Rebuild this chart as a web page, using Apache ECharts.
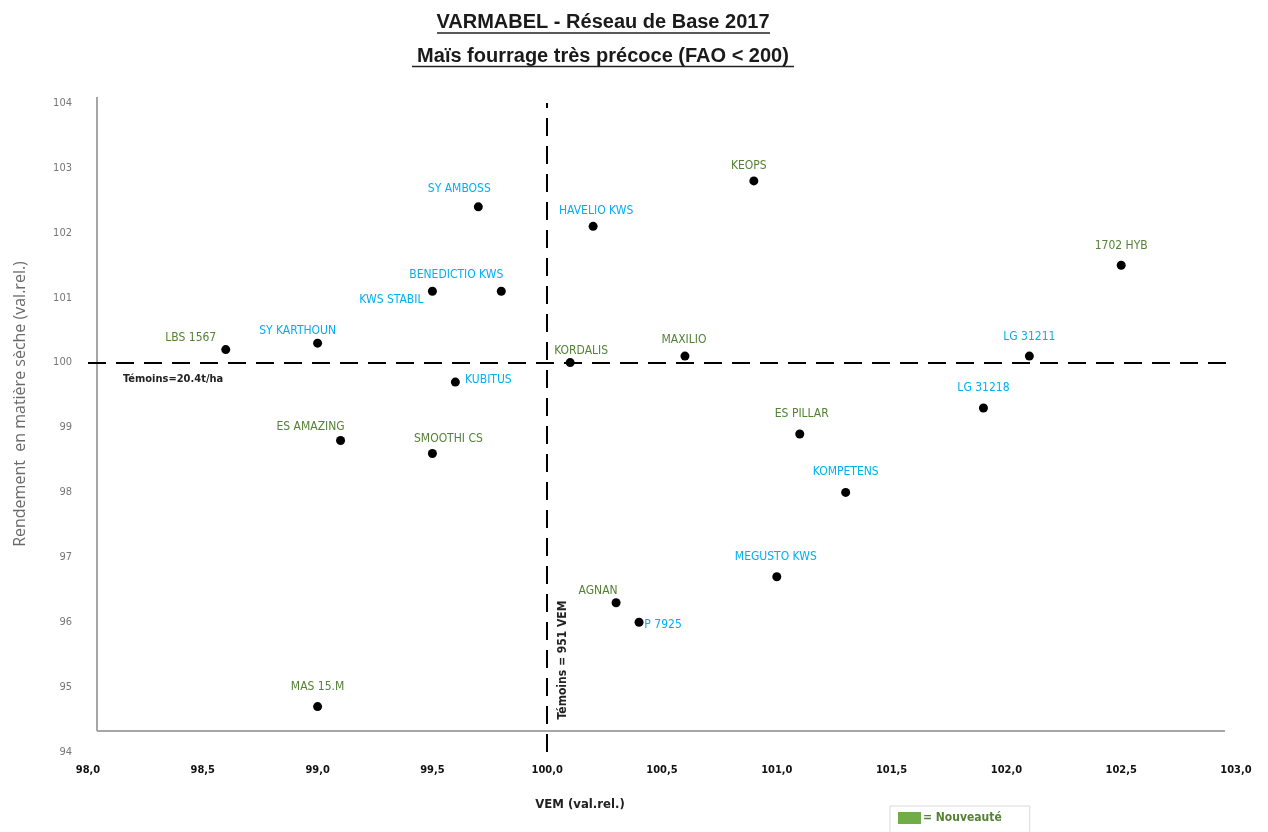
<!DOCTYPE html>
<html>
<head>
<meta charset="utf-8">
<script src="https://cdn.jsdelivr.net/npm/echarts@6/dist/echarts.min.js"></script>
<style>
html,body{margin:0;padding:0;background:#fff;}
#chart{width:1268px;height:832px;}
</style>
</head>
<body>
<div id="chart"></div>
<script>
// ---- Data ----
const varieties = ['LBS 1567','SY KARTHOUN','KWS STABIL','BENEDICTIO KWS','SY AMBOSS','KUBITUS','ES AMAZING','SMOOTHI CS','MAS 15.M','HAVELIO KWS','KEOPS','KORDALIS','MAXILIO','1702 HYB','LG 31211','LG 31218','ES PILLAR','KOMPETENS','MEGUSTO KWS','AGNAN','P 7925'];
const vem       = [98.6, 99.0, 99.5, 99.8, 99.7, 99.6, 99.1, 99.5, 99.0, 100.2, 100.9, 100.1, 100.6, 102.5, 102.1, 101.9, 101.1, 101.3, 101.0, 100.3, 100.4];
const rendement = [100.2, 100.3, 101.1, 101.1, 102.4, 99.7, 98.8, 98.6, 94.7, 102.1, 102.8, 100.0, 100.1, 101.5, 100.1, 99.3, 98.9, 98.0, 96.7, 96.3, 96.0];
const nouveaute = [true, false, false, false, false, false, true, true, true, false, true, true, true, true, false, false, true, false, false, true, false];
const xTicks = [98.0, 98.5, 99.0, 99.5, 100.0, 100.5, 101.0, 101.5, 102.0, 102.5, 103.0];
const yTicks = [94, 95, 96, 97, 98, 99, 100, 101, 102, 103, 104];
const temoinVEM = 100;
const temoinRdt = 100;
const titleLine1 = 'VARMABEL - Réseau de Base 2017';
const titleLine2 = 'Maïs fourrage très précoce (FAO < 200)';

// ---- Layout (label offsets, px from point centre) ----
const labelOffsets = {
  'LBS 1567':[-35,-12], 'SY KARTHOUN':[-20,-12], 'KWS STABIL':[-41,9], 'BENEDICTIO KWS':[-45,-16],
  'SY AMBOSS':[-19,-18], 'KUBITUS':[33,-2], 'ES AMAZING':[-30,-14], 'SMOOTHI CS':[16,-15],
  'MAS 15.M':[0,-20], 'HAVELIO KWS':[3,-15], 'KEOPS':[-5,-15], 'KORDALIS':[11,-12],
  'MAXILIO':[-1,-16], '1702 HYB':[0,-19], 'LG 31211':[0,-19], 'LG 31218':[0,-20],
  'ES PILLAR':[2,-20], 'KOMPETENS':[0,-21], 'MEGUSTO KWS':[-1,-20], 'AGNAN':[-18,-12], 'P 7925':[24,3]
};
const GREEN = '#548235', BLUE = '#00b0f0', NEW_BOX = '#70ad47';
const NARROW = '"Liberation Sans Narrow","DejaVu Sans Condensed","Liberation Sans",sans-serif';

const points = varieties.map((n, i) => ({
  name: n,
  value: [vem[i], rendement[i]],
  label: {
    show: true, position: 'inside', formatter: n,
    offset: labelOffsets[n],
    color: nouveaute[i] ? GREEN : BLUE,
    fontFamily: NARROW, fontSize: 12
  }
}));

const chart = echarts.init(document.getElementById('chart'));
chart.setOption({
  backgroundColor: '#fff',
  animation: false,
  title: {
    text: titleLine1 + '\n' + titleLine2,
    left: 603, top: 5, padding: 0, textAlign: 'center',
    textStyle: { fontFamily: '"Liberation Sans",Arial,sans-serif', fontWeight: 'bold', fontSize: 20, lineHeight: 34, color: '#1a1a1a' }
  },
  legend: {
    left: 890, top: 806,
    data: ['= Nouveauté'],
    icon: 'rect', itemWidth: 23, itemHeight: 12, itemGap: 2,
    borderColor: '#d9d9d9', borderWidth: 1, padding: [6, 28, 10, 8],
    textStyle: { color: GREEN, fontFamily: NARROW, fontSize: 12, fontWeight: 'bold', padding: [0,0,0,-3] }
  },
  grid: { left: 88, right: 32, top: 103, bottom: 80 },
  xAxis: {
    type: 'value', min: xTicks[0], max: xTicks[xTicks.length-1], interval: 0.5,
    axisLine: { show: false }, axisTick: { show: false }, splitLine: { show: false },
    axisLabel: {
      margin: 13, color: '#111', fontFamily: NARROW, fontWeight: 'bold', fontSize: 11,
      formatter: v => v.toFixed(1).replace('.', ',')
    }
  },
  yAxis: {
    type: 'value', min: yTicks[0], max: yTicks[yTicks.length-1], interval: 1,
    axisLine: { show: false }, axisTick: { show: false }, splitLine: { show: false },
    axisLabel: { margin: 16, color: '#777', fontFamily: NARROW, fontSize: 11 }
  },
  graphic: [
    { type: 'line', shape: { x1: 97, y1: 97, x2: 97, y2: 731 }, style: { stroke: '#a6a6a6', lineWidth: 2 } },
    { type: 'line', shape: { x1: 97, y1: 731, x2: 1225, y2: 731 }, style: { stroke: '#a6a6a6', lineWidth: 2 } },
    { type: 'line', shape: { x1: 437, y1: 33, x2: 770, y2: 33 }, style: { stroke: '#222', lineWidth: 1.5 }, z: 10 },
    { type: 'line', shape: { x1: 412, y1: 66.5, x2: 794, y2: 66.5 }, style: { stroke: '#222', lineWidth: 1.5 }, z: 10 },
    { type: 'text', x: 20, y: 404, rotation: Math.PI/2,
      style: { text: 'Rendement  en matière sèche (val.rel.)', fill: '#6a6a6a', font: '16px "Open Sans","Liberation Sans",sans-serif', align: 'center', verticalAlign: 'middle' } },
    { type: 'text', left: 123, top: 374, style: { text: 'Témoins=20.4t/ha', fill: '#222', font: 'bold 11px ' + NARROW } },
    { type: 'text', x: 563, y: 660, rotation: Math.PI/2,
      style: { text: 'Témoins = 951 VEM', fill: '#222', font: 'bold 12px ' + NARROW, align: 'center', verticalAlign: 'middle' } },
    { type: 'text', x: 580, y: 805, style: { text: 'VEM (val.rel.)', fill: '#222', font: 'bold 13px ' + NARROW, align: 'center', verticalAlign: 'middle' } }
  ],
  series: [
    {
      name: 'Variétés', type: 'scatter', symbol: 'circle', symbolSize: 9,
      itemStyle: { color: '#000', opacity: 1 },
      data: points,
      markLine: {
        silent: true, symbol: 'none',
        label: { show: false },
        lineStyle: { color: '#000', type: [18, 10], width: 2, opacity: 1 },
        data: [ { yAxis: temoinRdt }, { xAxis: temoinVEM } ]
      },
      z: 5
    },
    { name: '= Nouveauté', type: 'scatter', data: [], itemStyle: { color: NEW_BOX, opacity: 1 } }
  ]
});
</script>
</body>
</html>
